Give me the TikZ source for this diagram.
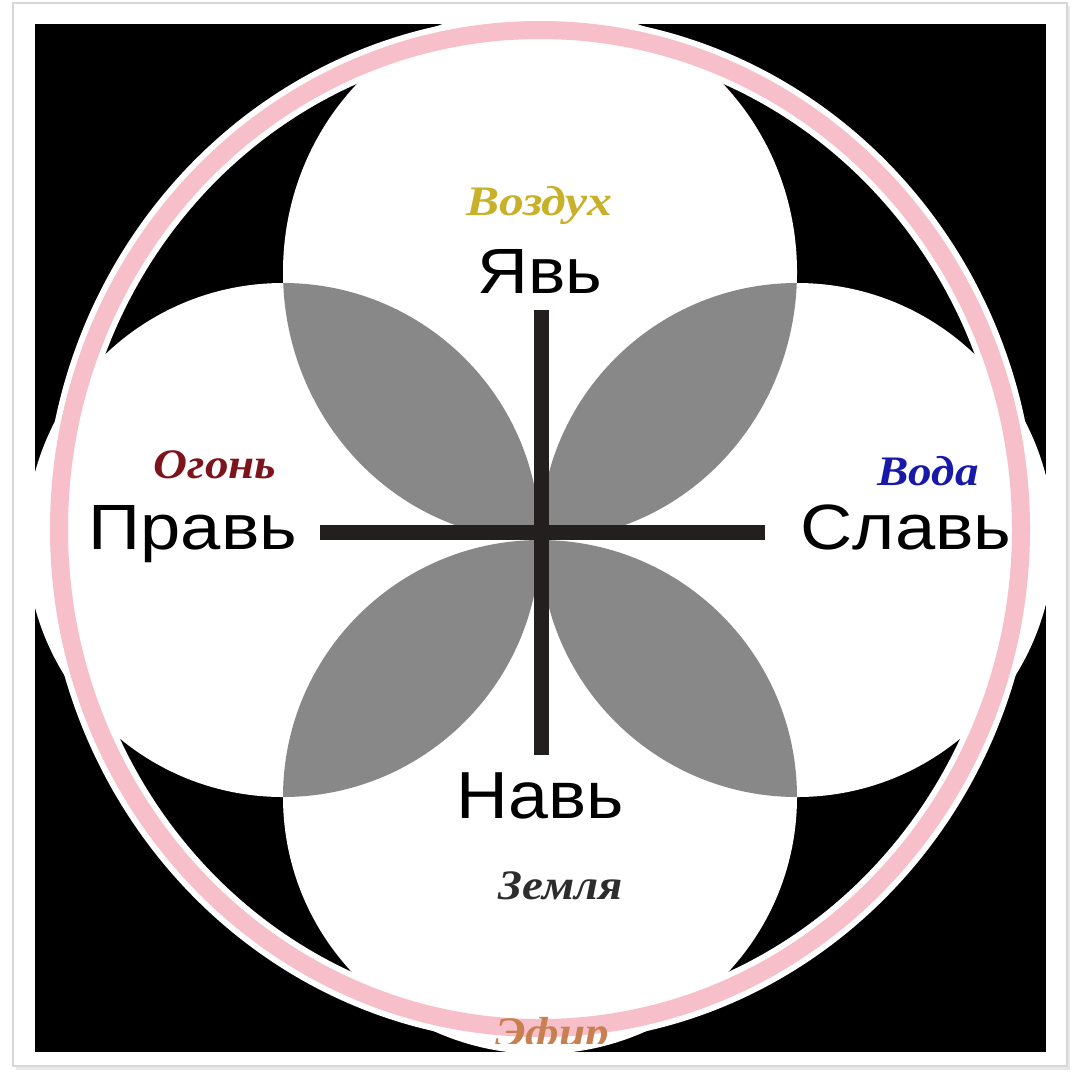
\documentclass[tikz,border=0pt]{standalone}
\usepackage{fontspec}
\setmainfont{Liberation Sans}
\newfontfamily\elemfont{Liberation Serif}
\definecolor{ringpink}{RGB}{247,191,202}
\definecolor{petal}{RGB}{136,136,136}
\definecolor{crosscol}{RGB}{35,31,31}
\definecolor{airc}{RGB}{200,176,40}
\definecolor{firec}{RGB}{125,20,28}
\definecolor{waterc}{RGB}{24,24,170}
\definecolor{earthc}{RGB}{45,45,45}
\definecolor{aetherc}{RGB}{200,128,80}
\definecolor{framec}{RGB}{215,215,215}
\tikzset{
  world/.style={inner sep=0pt, anchor=base, text=black, font=\fontsize{64}{64}\selectfont},
  element/.style={inner sep=0pt, anchor=base, font=\elemfont\bfseries\itshape\fontsize{42}{42}\selectfont},
  circ/.style={fill=white},
}
\begin{document}
\begin{tikzpicture}[x=1pt,y=-1pt]
\useasboundingbox (0,0) rectangle (1075,1072);
\fill[white] (0,0) rectangle (1075,1072);
% frame with soft shadow
\fill[framec!60] (16,6) rectangle (1070,1070);
\filldraw[fill=white, draw=framec, line width=1.5] (13,3) rectangle (1067,1066);
% black square
\fill[black] (35,24) rectangle (1046,1052);
% four circles
\coordinate (ctop) at (540,272);
\coordinate (cleft) at (283,540);
\coordinate (cright) at (797,540);
\coordinate (cbot) at (540,797);
\def\toppath{(ctop) ellipse[x radius=257, y radius=268]}
\fill[circ] \toppath;
\foreach \c in {cleft,cright,cbot} \fill[circ] (\c) circle[radius=257];
% petals
\begin{scope}\clip \toppath; \fill[petal] (cleft) circle[radius=257]; \fill[petal] (cright) circle[radius=257];\end{scope}
\begin{scope}\clip (cbot) circle[radius=257]; \fill[petal] (cleft) circle[radius=257]; \fill[petal] (cright) circle[radius=257];\end{scope}
% ring
\coordinate (rc) at (540,529);
\draw[white, line width=30] (rc) ellipse[x radius=481, y radius=499];
\draw[ringpink, line width=18] (rc) ellipse[x radius=481, y radius=499];
% cross
\coordinate (vt) at (541,310);
\coordinate (vb) at (541,755);
\coordinate (hl) at (320,532);
\coordinate (hr) at (765,532);
\draw[crosscol, line width=15] (vt) -- (vb);
\draw[crosscol, line width=15] (hl) -- (hr);
% labels
\node[world, xscale=1.1] (yav) at (540,293) {Явь};
\node[world, xscale=1.13] (prav) at (193,549) {Правь};
\node[world, xscale=1.13] (slav) at (906,549) {Славь};
\node[world, xscale=1.12, yscale=1.04] (nav) at (540,818) {Навь};
\node[element, text=airc, xscale=1.18] (air) at (539,215) {Воздух};
\node[element, text=firec, xscale=1.12] (fire) at (215,478) {Огонь};
\node[element, text=waterc, xscale=1.12] (water) at (928,485) {Вода};
\node[element, text=earthc, xscale=1.12] (earth) at (561,899) {Земля};
\begin{scope}
\clip (400,1000) rectangle (700,1043);
\node[element, text=aetherc, xscale=1.12] (aether) at (552,1046) {Эфир};
\end{scope}
\end{tikzpicture}
\end{document}
